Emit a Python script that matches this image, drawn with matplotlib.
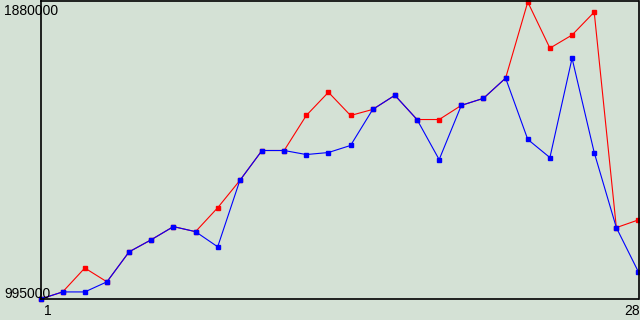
import matplotlib
matplotlib.use("Agg")
import matplotlib.pyplot as plt

# data
x = list(range(1, 29))
red = [995000, 1016000, 1087000, 1046000, 1135000, 1171000, 1210000, 1195000,
       1266000, 1347000, 1436000, 1436000, 1540000, 1609000, 1540000, 1558000,
       1600000, 1528000, 1528000, 1570000, 1591000, 1651000, 1877000, 1740000,
       1779000, 1847000, 1207000, 1230000]
blue = [995000, 1016000, 1016000, 1046000, 1135000, 1171000, 1210000, 1195000,
        1150000, 1347000, 1436000, 1436000, 1424000, 1430000, 1451000, 1558000,
        1600000, 1528000, 1409000, 1570000, 1591000, 1651000, 1469000, 1415000,
        1710000, 1430000, 1207000, 1075000]
ymin, ymax = 995000, 1880000
xlabels = ["1", "28"]
ylabels = ["995000", "1880000"]

bg = "#d4e1d5"
plt.rcParams["font.family"] = ["Liberation Sans", "DejaVu Sans"]

fig = plt.figure(figsize=(6.4, 3.2), dpi=100, facecolor=bg)
ax = fig.add_axes([40.5 / 640, 21 / 320, 598 / 640, 298 / 320], facecolor=bg)

ax.plot(x, red, color="#ff0000", lw=0.8, marker="s", ms=2.2, clip_on=False)
ax.plot(x, blue, color="#0000ff", lw=0.8, marker="s", ms=2.2, clip_on=False)

ax.set_xlim(1, 28)
ax.set_ylim(ymin, ymax)
ax.set_xticks([])
ax.set_yticks([])
for s in ax.spines.values():
    s.set_color("black")
    s.set_linewidth(1.2)

# tick labels placed like the original (left aligned, overlapping the axis)
ax.annotate(ylabels[1], xy=(0, ymax), xycoords=("axes fraction", "data"),
            xytext=(-26.3, -10), textcoords="offset points",
            ha="left", va="baseline", fontsize=10, annotation_clip=False)
ax.annotate(ylabels[0], xy=(0, ymin), xycoords=("axes fraction", "data"),
            xytext=(-26.3, 0.8), textcoords="offset points",
            ha="left", va="baseline", fontsize=10, annotation_clip=False)
ax.annotate(xlabels[0], xy=(x[0], 0), xycoords=("data", "axes fraction"),
            xytext=(2.2, -11.5), textcoords="offset points",
            ha="left", va="baseline", fontsize=10, annotation_clip=False)
ax.annotate(xlabels[1], xy=(x[-1], 0), xycoords=("data", "axes fraction"),
            xytext=(0.8, -11.5), textcoords="offset points",
            ha="right", va="baseline", fontsize=10, annotation_clip=False)

fig.savefig("out.png", dpi=100, facecolor=bg)
